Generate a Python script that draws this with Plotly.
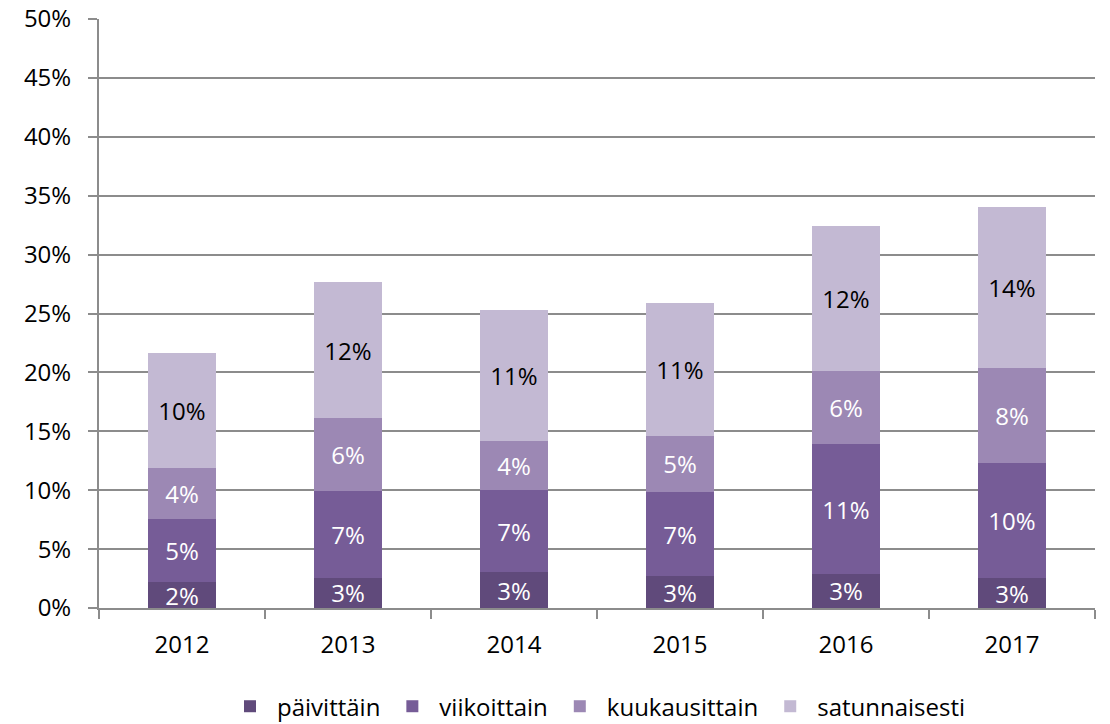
import plotly.graph_objects as go

years = ["2012", "2013", "2014", "2015", "2016", "2017"]
paivittain = [2.2, 2.55, 3.05, 2.7, 2.9, 2.52]
viikoittain = [5.38, 7.35, 6.95, 7.15, 10.98, 9.81]
kuukausittain = [4.3, 6.2, 4.18, 4.75, 6.28, 8.07]
satunnaisesti = [9.79, 11.6, 11.1, 11.3, 12.31, 13.61]

series = [
    ("päivittäin", paivittain, "#604a7b", "white"),
    ("viikoittain", viikoittain, "#765c97", "white"),
    ("kuukausittain", kuukausittain, "#9c88b4", "white"),
    ("satunnaisesti", satunnaisesti, "#c3b9d3", "black"),
]

FONT = "Open Sans"
FS = 24
fig = go.Figure()
for name, vals, color, tcol in series:
    fig.add_trace(go.Bar(
        x=years, y=vals, name=name,
        marker=dict(color=color, line=dict(width=0)),
        texttemplate="%{y:.0f}%", textposition="inside",
        insidetextanchor="middle", constraintext="none",
        textfont=dict(color=tcol, size=FS, family=FONT),
        textangle=0, cliponaxis=False,
    ))

fig.update_layout(
    barmode="stack",
    bargap=0.59,
    width=1110, height=724,
    margin=dict(l=99, r=15, t=19, b=116, autoexpand=False),
    plot_bgcolor="white", paper_bgcolor="white",
    font=dict(family=FONT, size=FS, color="black"),
    legend=dict(orientation="h", x=0.5, xanchor="center",
                yref="container", y=0.024, yanchor="middle",
                font=dict(size=FS, family=FONT), traceorder="normal",
                itemwidth=44),
    showlegend=True,
)
fig.update_yaxes(
    range=[0, 50], dtick=5, ticksuffix="%",
    showgrid=True, gridcolor="#8c8c8c", gridwidth=2,
    showline=True, linecolor="#8c8c8c", linewidth=2,
    ticks="outside", ticklen=9, tickcolor="#8c8c8c", tickwidth=2,
    tickfont=dict(size=FS, family=FONT), zeroline=False,
    ticklabelstandoff=12, automargin=False,
)
fig.update_xaxes(
    showline=True, linecolor="#8c8c8c", linewidth=2,
    ticks="outside", ticklen=9, tickcolor="#8c8c8c", tickwidth=2,
    tickson="boundaries", tickfont=dict(size=FS, family=FONT),
    ticklabelstandoff=14, automargin=False,
)
fig.write_html("out.html", config={"displayModeBar": False},
               post_script="document.body.style.margin='0';document.body.style.padding='0';document.body.style.overflow='hidden';")
